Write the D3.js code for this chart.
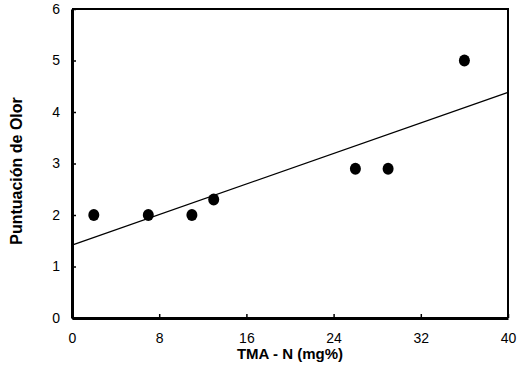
<!DOCTYPE html>
<html>
<head>
<meta charset="utf-8">
<script src="https://cdn.jsdelivr.net/npm/d3@7"></script>
<style>
  body { margin: 0; background: #fff; }
  svg { display: block; }
</style>
</head>
<body>
<svg width="529" height="387"></svg>
<script>
// data
const tmaN = [2, 7, 11, 13, 26, 29, 36];
const olor = [2, 2, 2, 2.3, 2.9, 2.9, 5];
const xTicks = [0, 8, 16, 24, 32, 40];
const yTicks = [0, 1, 2, 3, 4, 5, 6];

const svg = d3.select("svg");
const margin = { top: 9, right: 21, bottom: 69, left: 72 };
const width = 529 - margin.left - margin.right;
const height = 387 - margin.top - margin.bottom;

const g = svg.append("g").attr("transform", `translate(${margin.left},${margin.top})`);

const x = d3.scaleLinear().domain([0, 40]).range([0, width]);
const y = d3.scaleLinear().domain([0, 6]).range([height, 0]);

// least squares fit
const n = tmaN.length;
const mx = d3.mean(tmaN), my = d3.mean(olor);
let sxy = 0, sxx = 0;
for (let i = 0; i < n; i++) {
  sxy += (tmaN[i] - mx) * (olor[i] - my);
  sxx += (tmaN[i] - mx) * (tmaN[i] - mx);
}
const slope = sxy / sxx;
const intercept = my - slope * mx;

// frame (top/right)
g.append("path")
  .attr("d", `M0,0H${width}V${height}`)
  .attr("fill", "none")
  .attr("stroke", "#000")
  .attr("stroke-width", 2);

// axes
const xAxis = g.append("g")
  .attr("transform", `translate(0,${height})`)
  .call(d3.axisBottom(x).tickValues(xTicks).tickFormat(d3.format("d"))
    .tickSizeInner(-4).tickSizeOuter(0).tickPadding(15));
const yAxis = g.append("g")
  .call(d3.axisLeft(y).tickValues(yTicks).tickFormat(d3.format("d"))
    .tickSizeInner(-4).tickSizeOuter(0).tickPadding(12));

[xAxis, yAxis].forEach(a => {
  a.select(".domain").attr("stroke-width", 3);
  a.selectAll(".tick line").attr("stroke-width", 1.5);
  a.selectAll("text")
    .style("font-family", "'Liberation Sans', Arial, sans-serif")
    .style("font-size", "14px")
    .attr("fill", "#000");
});

// regression line
g.append("line")
  .attr("x1", x(0)).attr("y1", y(intercept))
  .attr("x2", x(40)).attr("y2", y(intercept + slope * 40))
  .attr("stroke", "#000")
  .attr("stroke-width", 1.3);

// points
g.selectAll("ellipse.pt")
  .data(tmaN.map((d, i) => ({ x: d, y: olor[i] })))
  .enter().append("ellipse")
  .attr("class", "pt")
  .attr("cx", d => x(d.x))
  .attr("cy", d => y(d.y))
  .attr("rx", 5.5)
  .attr("ry", 6)
  .attr("fill", "#000");

// axis titles
svg.append("text")
  .attr("x", margin.left + width / 2)
  .attr("y", 359)
  .attr("text-anchor", "middle")
  .style("font-family", "'Liberation Sans', Arial, sans-serif")
  .style("font-weight", "bold")
  .style("font-size", "15px")
  .text("TMA - N (mg%)");

svg.append("text")
  .attr("transform", `translate(22,171) rotate(-90)`)
  .attr("text-anchor", "middle")
  .style("font-family", "'Liberation Sans', Arial, sans-serif")
  .style("font-weight", "bold")
  .style("font-size", "16px")
  .text("Puntuación de Olor");
</script>
</body>
</html>
